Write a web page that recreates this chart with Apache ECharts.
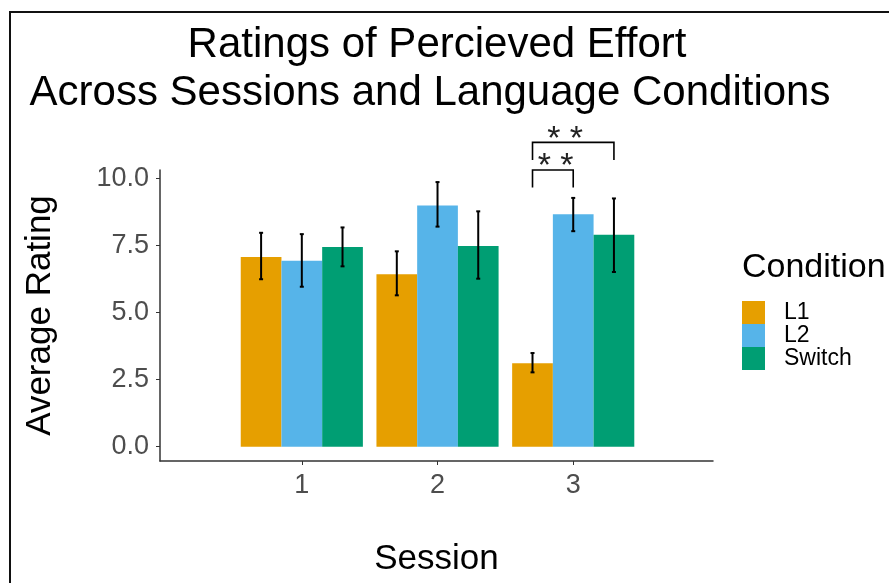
<!DOCTYPE html>
<html>
<head>
<meta charset="utf-8">
<script src="https://cdn.jsdelivr.net/npm/echarts@6/dist/echarts.min.js"></script>
<style>
html,body{margin:0;padding:0;background:#fff;}
#wrap{position:relative;width:889px;height:583px;overflow:hidden;}
#chart{position:absolute;left:0;top:0;width:889px;height:583px;}
#frame{position:absolute;left:9px;top:11px;width:900px;height:600px;border-left:2px solid #111;border-top:2px solid #111;pointer-events:none;}
</style>
</head>
<body>
<div id="wrap"><div id="chart"></div><div id="frame"></div></div>
<script>
const sessions = [1, 2, 3];
const conditions = ['L1', 'L2', 'Switch'];
const colors = ['#E69F00', '#56B4E9', '#009E73'];
const l1Mean = [7.07, 6.43, 3.11];
const l1Low = [6.24, 5.64, 2.77];
const l1High = [7.97, 7.28, 3.49];
const l2Mean = [6.93, 8.99, 8.66];
const l2Low = [5.96, 8.20, 8.03];
const l2High = [7.92, 9.86, 9.27];
const swMean = [7.44, 7.48, 7.90];
const swLow = [6.72, 6.26, 6.51];
const swHigh = [8.17, 8.77, 9.25];
const yTicks = [0, 2.5, 5, 7.5, 10];
const xTicks = [1, 2, 3];
// significance brackets: [x start, x end, leg bottom, top, label x]
const bracketInner = [2.7, 3.0, 9.66, 10.31, 2.87];
const bracketOuter = [2.7, 3.3, 10.68, 11.34, 2.94];
const sigLabel = '* *';

const means = [l1Mean, l2Mean, swMean];
const lows = [l1Low, l2Low, swLow];
const highs = [l1High, l2High, swHigh];
const dodge = 0.3;

const font = 'Liberation Sans, Arial, Helvetica, sans-serif';

const barSeries = conditions.map((c, i) => ({
  name: c,
  type: 'bar',
  barWidth: '30%',
  barGap: '0%',
  itemStyle: { color: colors[i] },
  data: sessions.map((s, j) => [s, means[i][j]]),
  z: 2
}));

const errData = [];
conditions.forEach((c, i) => {
  sessions.forEach((s, j) => {
    errData.push([s + (i - 1) * dodge, lows[i][j], highs[i][j]]);
  });
});

const errSeries = {
  type: 'custom',
  name: 'err',
  data: errData,
  z: 5,
  renderItem: function (params, api) {
    const x = api.value(0);
    const p1 = api.coord([x, api.value(1)]);
    const p2 = api.coord([x, api.value(2)]);
    const cap = 2;
    const st = { stroke: '#000', lineWidth: 2 };
    return {
      type: 'group',
      children: [
        { type: 'line', shape: { x1: p1[0], y1: p1[1], x2: p2[0], y2: p2[1] }, style: st },
        { type: 'line', shape: { x1: p1[0] - cap, y1: p1[1], x2: p1[0] + cap, y2: p1[1] }, style: st },
        { type: 'line', shape: { x1: p2[0] - cap, y1: p2[1], x2: p2[0] + cap, y2: p2[1] }, style: st }
      ]
    };
  },
  encode: { x: 0, y: [1, 2] }
};

const brackets = [bracketInner, bracketOuter];
const sigSeries = {
  type: 'custom',
  name: 'sig',
  clip: false,
  z: 6,
  data: brackets,
  renderItem: function (params, api) {
    const x1 = api.value(0), x2 = api.value(1), yb = api.value(2), yt = api.value(3), xl = api.value(4);
    const a = api.coord([x1, yb]);
    const b = api.coord([x1, yt]);
    const c = api.coord([x2, yt]);
    const d = api.coord([x2, yb]);
    const l = api.coord([xl, yt]);
    return {
      type: 'group',
      children: [
        { type: 'polyline', shape: { points: [a, b, c, d] }, style: { stroke: '#000', lineWidth: 1.6, fill: null } },
        { type: 'text', x: l[0], y: l[1] + 14,
          style: { text: sigLabel, fill: '#222', font: '34px ' + font, textAlign: 'center', textVerticalAlign: 'bottom' } }
      ]
    };
  },
  encode: { x: [0, 1], y: [2, 3] }
};

const chart = echarts.init(document.getElementById('chart'), null, { renderer: 'canvas' });
chart.setOption({
  animation: false,
  backgroundColor: '#fff',
  textStyle: { fontFamily: font },
  title: [
    { text: 'Ratings of Percieved Effort', left: 432, top: 19, textAlign: 'center',
      textStyle: { fontSize: 42, fontWeight: 'normal', color: '#000', fontFamily: font } },
    { text: 'Across Sessions and Language Conditions', left: 425, top: 67, textAlign: 'center',
      textStyle: { fontSize: 42, fontWeight: 'normal', color: '#000', fontFamily: font } },
    { text: 'Condition', left: 737, top: 246,
      textStyle: { fontSize: 34, fontWeight: 'normal', color: '#000', fontFamily: font } }
  ],
  legend: {
    orient: 'vertical',
    left: 737,
    top: 296,
    itemWidth: 23,
    itemHeight: 23,
    itemGap: 0,
    icon: 'rect',
    data: conditions,
    textStyle: { fontSize: 23, color: '#000', fontFamily: font, padding: [0, 0, 0, 14], lineHeight: 23 }
  },
  grid: { left: 160, right: 176, top: 170, bottom: 122 },
  xAxis: {
    type: 'value',
    min: -0.045,
    max: 4.03,
    name: 'Session',
    nameLocation: 'middle',
    nameGap: 81,
    nameTextStyle: { fontSize: 35, color: '#000', fontFamily: font },
    splitLine: { show: false },
    axisLine: { show: true, onZero: false, lineStyle: { color: '#333', width: 1.5 } },
    axisTick: { show: true, customValues: xTicks, length: 4, lineStyle: { color: '#333' } },
    axisLabel: { customValues: xTicks, fontSize: 27, color: '#4D4D4D', margin: 11, fontFamily: font }
  },
  yAxis: {
    type: 'value',
    min: -0.533,
    max: 10.31,
    name: 'Average Rating',
    nameLocation: 'middle',
    nameGap: 102,
    nameTextStyle: { fontSize: 35, color: '#000', fontFamily: font },
    splitLine: { show: false },
    axisLine: { show: true, onZero: false, lineStyle: { color: '#333', width: 1.5 } },
    axisTick: { show: true, customValues: yTicks, length: 4, lineStyle: { color: '#333' } },
    axisLabel: { customValues: yTicks, fontSize: 27, color: '#4D4D4D', margin: 11, fontFamily: font,
      formatter: v => Number(v).toFixed(1) }
  },
  series: [...barSeries, errSeries, sigSeries]
});
</script>
</body>
</html>
